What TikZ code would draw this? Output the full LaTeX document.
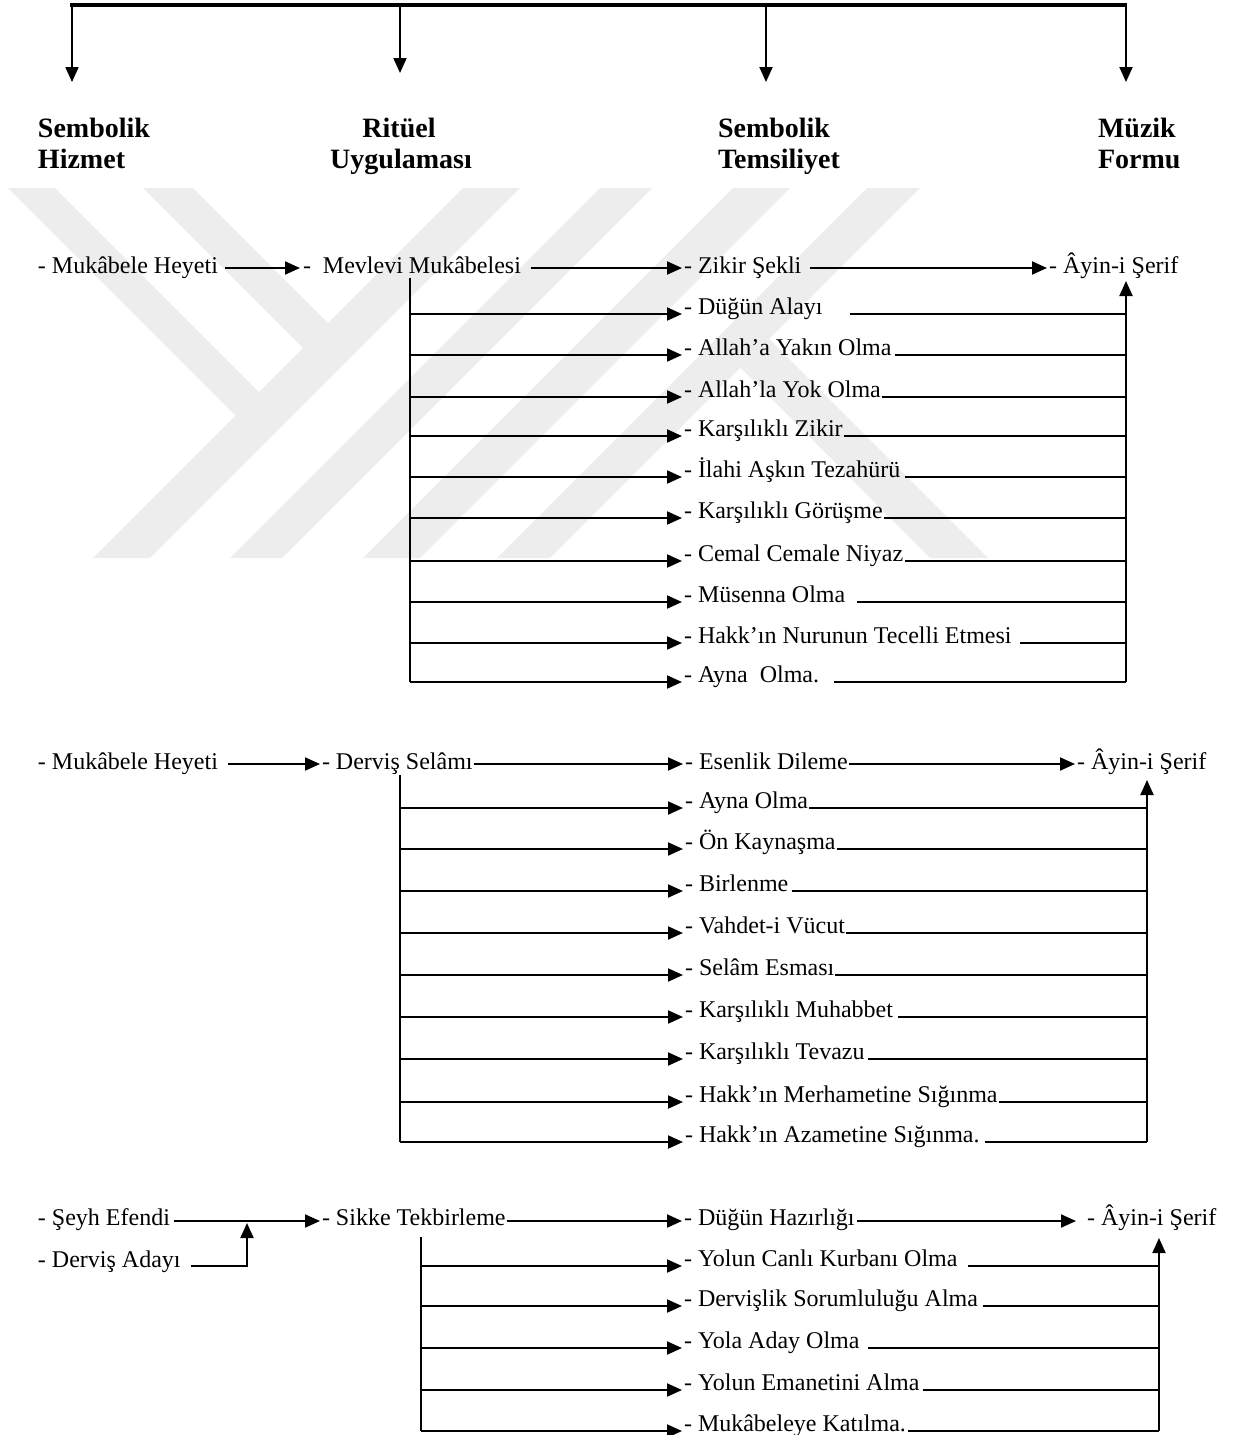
\documentclass[tikz,border=0pt]{standalone}
\usepackage{fontspec}
\setmainfont{Liberation Serif}
\usetikzlibrary{arrows.meta,calc}
\begin{document}
\begin{tikzpicture}[x=0.5pt,y=-0.5pt,
  every node/.style={font=\fontsize{12}{14}\selectfont},
  txt/.style={inner sep=0pt,outer sep=0pt,anchor=base west},
  hdr/.style={inner sep=0pt,outer sep=0pt,anchor=base west,font=\bfseries\fontsize{14}{16}\selectfont},
  ln/.style={line width=1pt},
  topln/.style={line width=2.2pt},
  arr/.style={line width=1pt,-{Triangle[length=7.5pt,width=6.5pt]}},
  wm/.style={fill=black!7}]
\useasboundingbox (0,0) rectangle (1233,1435);
% watermark
\fill[wm] (8,188) -- (55,188) -- (259,392) -- (235.5,415.5) -- cycle;
\fill[wm] (143,188) -- (193,188) -- (328,323) -- (303,348) -- cycle;
\fill[wm] (463,188) -- (520,188) -- (150,558) -- (93,558) -- cycle;
\fill[wm] (600,188) -- (652,188) -- (282,558) -- (230,558) -- cycle;
\fill[wm] (733,188) -- (790,188) -- (420,558) -- (363,558) -- cycle;
\fill[wm] (867,188) -- (920,188) -- (550,558) -- (497,558) -- cycle;
\fill[wm] (740,367) -- (769,339) -- (988,558) -- (930,558) -- cycle;
% top bar and headers
\coordinate (tl) at (70,5);
\coordinate (tr) at (1127,5);
\draw[topln] (tl) -- (tr);
\coordinate (b1) at (72,5);   \coordinate (e1) at (72,82);
\coordinate (b2) at (400,5);  \coordinate (e2) at (400,73);
\coordinate (b3) at (766,5);  \coordinate (e3) at (766,82);
\coordinate (b4) at (1126,4); \coordinate (e4) at (1126,82);
\draw[arr] (b1) -- (e1);
\draw[arr] (b2) -- (e2);
\draw[arr] (b3) -- (e3);
\draw[arr] (b4) -- (e4);
\node[hdr] (h1a) at (38,137) {Sembolik};
\node[hdr] (h1b) at (38,168) {Hizmet};
\node[hdr,anchor=base] (h2a) at (399,137) {Ritüel};
\node[hdr,anchor=base] (h2b) at (401,168) {Uygulaması};
\node[hdr] (h3a) at (718,137) {Sembolik};
\node[hdr] (h3b) at (718,168) {Temsiliyet};
\node[hdr] (h4a) at (1098,137) {Müzik};
\node[hdr] (h4b) at (1098,168) {Formu};
% ---------- section 1
\node[txt] (mh1) at (38,273) {- Mukâbele Heyeti};
\node[txt] (mm1) at (303,273) {-~ Mevlevi Mukâbelesi};
\node[txt] (zs1) at (684,273) {- Zikir Şekli};
\node[txt] (ay1) at (1049,273) {- Âyin-i Şerif};
\draw[arr] ($(mh1.base east)+(7,-5)$) -- ($(mm1.base west)+(-3,-5)$);
\draw[arr] ($(mm1.base east)+(10,-5)$) -- ($(zs1.base west)+(-2,-5)$);
\draw[arr] ($(zs1.base east)+(9,-5)$) -- ($(ay1.base west)+(-2,-5)$);
\coordinate (t1) at (410,278);
\coordinate (v1) at (1126,281);
\foreach \i/\yy/\lbl/\g in {
  1/314/{- Düğün Alayı}/27,
  2/355/{- Allah’a Yakın Olma}/3,
  3/397/{- Allah’la Yok Olma}/1,
  4/436/{- Karşılıklı Zikir}/1,
  5/477/{- İlahi Aşkın Tezahürü}/5,
  6/518/{- Karşılıklı Görüşme}/1,
  7/561/{- Cemal Cemale Niyaz}/2,
  8/602/{- Müsenna Olma}/12,
  9/643/{- Hakk’ın Nurunun Tecelli Etmesi}/8,
  10/682/{- Ayna~ Olma.}/15}{
  \node[txt] (ra\i) at (684,\yy) {\lbl};
  \draw[arr] (t1 |- ra\i.base) -- ($(ra\i.base west)+(-2,0)$);
  \draw[ln] ($(ra\i.base east)+(\g,0)$) -- (v1 |- ra\i.base);
}
\draw[ln] (t1) -- (t1 |- ra10.base);
\draw[arr] (v1 |- ra10.base) -- (v1);
% ---------- section 2
\node[txt] (mh2) at (38,769) {- Mukâbele Heyeti};
\node[txt] (ds2) at (322,769) {- Derviş Selâmı};
\node[txt] (ed2) at (685,769) {- Esenlik Dileme};
\node[txt] (ay2) at (1077,769) {- Âyin-i Şerif};
\draw[arr] ($(mh2.base east)+(10,-5)$) -- ($(ds2.base west)+(-2,-5)$);
\draw[arr] ($(ds2.base east)+(1,-5)$) -- ($(ed2.base west)+(-2,-5)$);
\draw[arr] ($(ed2.base east)+(1,-5)$) -- ($(ay2.base west)+(-2,-5)$);
\coordinate (t2) at (400,775);
\coordinate (v2) at (1147,780);
\foreach \i/\yy/\lbl/\g in {
  1/808/{- Ayna Olma}/1,
  2/849/{- Ön Kaynaşma}/1,
  3/891/{- Birlenme}/4,
  4/933/{- Vahdet-i Vücut}/1,
  5/975/{- Selâm Esması}/1,
  6/1017/{- Karşılıklı Muhabbet}/5,
  7/1059/{- Karşılıklı Tevazu}/3,
  8/1102/{- Hakk’ın Merhametine Sığınma}/1,
  9/1142/{- Hakk’ın Azametine Sığınma.}/5}{
  \node[txt] (rb\i) at (685,\yy) {\lbl};
  \draw[arr] (t2 |- rb\i.base) -- ($(rb\i.base west)+(-2,0)$);
  \draw[ln] ($(rb\i.base east)+(\g,0)$) -- (v2 |- rb\i.base);
}
\draw[ln] (t2) -- (t2 |- rb9.base);
\draw[arr] (v2 |- rb9.base) -- (v2);
% ---------- section 3
\node[txt] (se3) at (38,1225) {- Şeyh Efendi};
\node[txt] (da3) at (38,1267) {- Derviş Adayı};
\node[txt] (st3) at (322,1225) {- Sikke Tekbirleme};
\node[txt] (dh3) at (684,1225) {- Düğün Hazırlığı};
\node[txt] (ay3) at (1087,1225) {- Âyin-i Şerif};
\draw[arr] ($(se3.base east)+(4,-4)$) -- ($(st3.base west)+(-2,-4)$);
\coordinate (j3) at (247,1223);
\draw[arr] ($(da3.base east)+(10,-1)$) -| (j3);
\draw[arr] ($(st3.base east)+(1,-4)$) -- ($(dh3.base west)+(-2,-4)$);
\draw[arr] ($(dh3.base east)+(2,-4)$) -- ($(ay3.base west)+(-11,-4)$);
\coordinate (t3) at (421,1237);
\coordinate (v3) at (1159,1238);
\foreach \i/\yy/\lbl/\g in {
  1/1266/{- Yolun Canlı Kurbanı Olma}/10,
  2/1306/{- Dervişlik Sorumluluğu Alma}/5,
  3/1348/{- Yola Aday Olma}/8,
  4/1390/{- Yolun Emanetini Alma}/3,
  5/1431/{- Mukâbeleye Katılma.}/2}{
  \node[txt] (rc\i) at (684,\yy) {\lbl};
  \draw[arr] (t3 |- rc\i.base) -- ($(rc\i.base west)+(-2,0)$);
  \draw[ln] ($(rc\i.base east)+(\g,0)$) -- (v3 |- rc\i.base);
}
\draw[ln] (t3) -- (t3 |- rc5.base);
\draw[arr] (v3 |- rc5.base) -- (v3);
\end{tikzpicture}
\end{document}
